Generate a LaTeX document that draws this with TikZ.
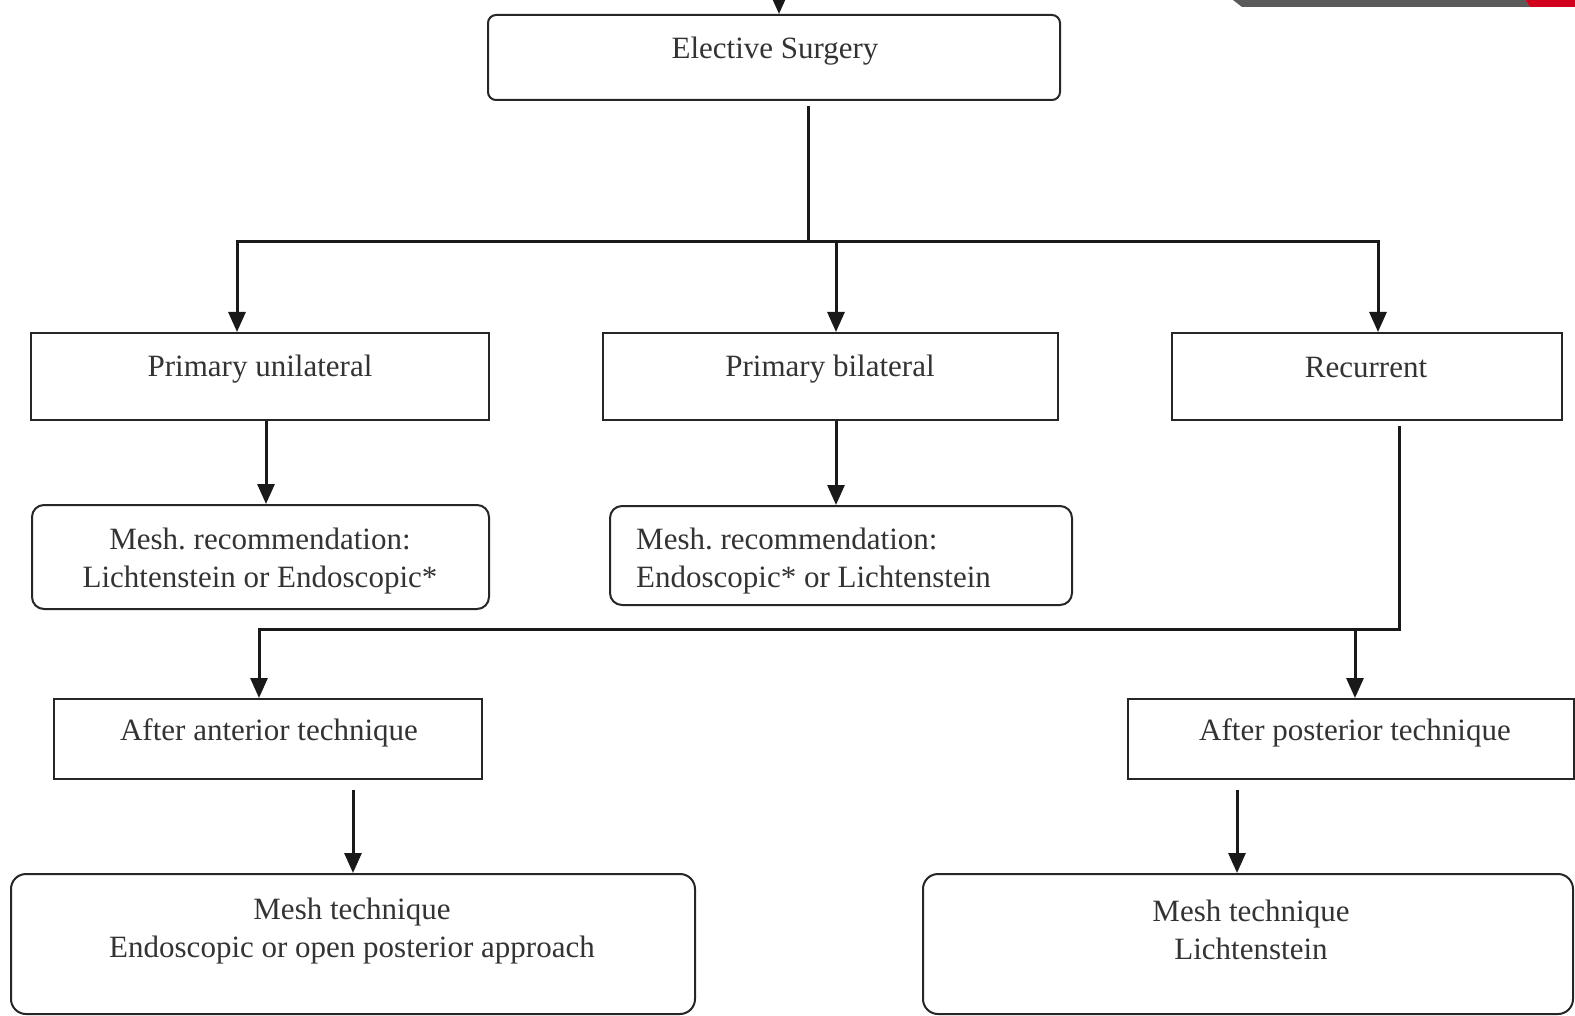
\documentclass[tikz,border=0pt]{standalone}
\usepackage{fontspec}
\setmainfont{Liberation Serif}
\usetikzlibrary{arrows.meta,calc}
\definecolor{bandgray}{HTML}{5A5A5A}
\definecolor{bandred}{HTML}{D0021B}
\frenchspacing
\begin{document}
\begin{tikzpicture}[x=1pt,y=-1pt,
  box/.style={draw=black!85, line width=2pt, inner sep=0pt, anchor=north west},
  rbox/.style={box, rounded corners=#1},
  txt/.style={font=\fontsize{31}{37.5}\selectfont, text=black!80, align=center, inner sep=0pt},
  ln/.style={line width=3pt, draw=black!90},
  arr/.style={ln, -{Triangle[length=20pt,width=17pt]}}]
\useasboundingbox (0,0) rectangle (1575,1016);
% top-right band fragment
\fill[bandgray] (1233,0) -- (1525,0) -- (1530,7) -- (1242,7) -- cycle;
\fill[bandred] (1525,0) -- (1575,0) -- (1575,7) -- (1530,7) -- cycle;
% boxes
\node[rbox=8pt, minimum width=572, minimum height=85] (es) at (487,14) {};
\node[box, minimum width=458, minimum height=87] (pu) at (30,332) {};
\node[box, minimum width=455, minimum height=87] (pb) at (602,332) {};
\node[box, minimum width=390, minimum height=87] (rc) at (1171,332) {};
\node[rbox=12pt, minimum width=457, minimum height=104] (mr1) at (31,504) {};
\node[rbox=12pt, minimum width=462, minimum height=99] (mr2) at (609,505) {};
\node[box, minimum width=428, minimum height=80] (aa) at (53,698) {};
\node[box, minimum width=446, minimum height=80] (ap) at (1127,698) {};
\node[rbox=15pt, minimum width=684, minimum height=140] (mt1) at (10,873) {};
\node[rbox=15pt, minimum width=650, minimum height=140] (mt2) at (922,873) {};
% texts
\node[txt] (es-t) at (775,51) {Elective Surgery};
\node[txt] (pu-t) at (260,369) {Primary unilateral};
\node[txt] (pb-t) at (830,369) {Primary bilateral};
\node[txt] (rc-t) at (1366,368) {Recurrent};
\node[txt] (mr1-t) at (260,561) {Mesh. recommendation:\\Lichtenstein or Endoscopic*};
\node[txt, align=left, anchor=west] (mr2-t) at (636,561) {Mesh. recommendation:\\Endoscopic* or Lichtenstein};
\node[txt] (aa-t) at (269,733) {After anterior technique};
\node[txt] (ap-t) at (1355,733) {After posterior technique};
\node[txt] (mt1-t) at (352,931) {Mesh technique\\Endoscopic or open posterior approach};
\node[txt] (mt2-t) at (1251,930) {Mesh technique\\Lichtenstein};
% junction coordinates
\coordinate (top) at (779,0);
\coordinate (j0) at (808,242);
\coordinate (hl) at (237,242);
\coordinate (hm) at (836,242);
\coordinate (hr) at (1378,242);
\coordinate (c1) at (266,0);
\coordinate (r1) at (1399,629);
\coordinate (aL) at (259,629);
\coordinate (aP) at (1355,629);
\coordinate (c2) at (1237,0);
% connectors
\draw[arr] (top) -- (top |- es.north);
\draw[ln] ($(es.south -| j0)+(0,5)$) -- (j0);
\draw[arr] (j0) -| (hl |- pu.north);
\draw[arr] (j0) -| (hr |- rc.north);
\draw[arr] (hm) -- (hm |- pb.north);
\draw[arr] (pu.south -| c1) -- (mr1.north -| c1);
\draw[arr] (pb.south -| hm) -- (mr2.north -| hm);
\draw[arr] ($(rc.south -| r1)+(0,5)$) |- (aL) -- (aL |- aa.north);
\draw[arr] (aP) -- (aP |- ap.north);
\draw[arr] ($(aa.south -| mt1.north)+(0,10)$) -- (mt1.north);
\draw[arr] ($(ap.south -| c2)+(0,10)$) -- (mt2.north -| c2);
\end{tikzpicture}
\end{document}
